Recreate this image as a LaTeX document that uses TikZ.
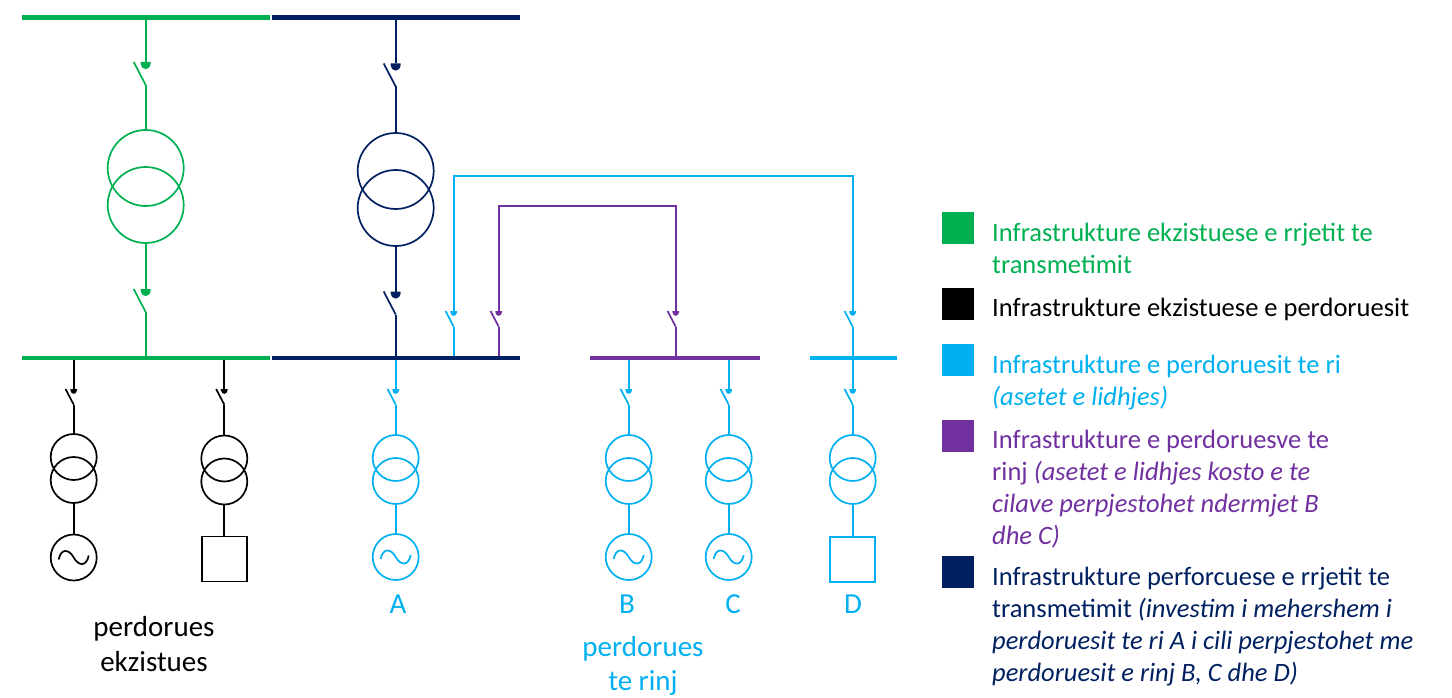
\documentclass[tikz,border=0pt]{standalone}
\usepackage{fontspec}
\setmainfont{Carlito}
\usetikzlibrary{positioning,calc}
\definecolor{exgreen}{HTML}{00B050}
\definecolor{newblue}{HTML}{00B0F0}
\definecolor{newpurple}{HTML}{7030A0}
\definecolor{reinfnavy}{HTML}{002060}
\tikzset{ln/.style={draw, line width=1.7pt}}
\tikzset{busbar/.style={fill, inner sep=0pt, outer sep=0pt, minimum height=4.5pt}}
\tikzset{winding/.style={draw, circle, line width=1.7pt, inner sep=0pt, outer sep=0pt, minimum size=46pt}}
\tikzset{bigwinding/.style={winding, minimum size=76pt}}
\tikzset{loadbox/.style={draw, rectangle, line width=1.7pt, inner sep=0pt, outer sep=0pt, minimum size=45pt}}
\tikzset{keybox/.style={fill, inner sep=0pt, outer sep=0pt, minimum size=32pt}}
\tikzset{keytxt/.style={anchor=base west, inner sep=0pt, font=\fontsize{26.5}{32}\selectfont}}
\tikzset{lbl/.style={anchor=base, inner sep=0pt, align=center, font=\fontsize{29}{34.5}\selectfont}}
\tikzset{brkr/.pic={
	\fill (-5,0) -- (5,0) -- (5,1.5) .. controls (4,9) and (-4,9) .. (-5,1.5) -- cycle;
	\draw[line width=1.7pt] (-12,0) -- (0,23);
	\coordinate (top) at (0,0);
	\coordinate (bot) at (0,23);
}}
\tikzset{sinew/.pic={
	\draw[line width=1.7pt] (-15,2) .. controls (-13,-9) and (-5,-9) .. (0,0) .. controls (5,9) and (13,9) .. (15,-2);
}}
\begin{document}
\begin{tikzpicture}[x=1pt,y=-1pt]
	\useasboundingbox (0,0) rectangle (1452,698);
	% busbars
	\node[busbar, exgreen, minimum width=248pt] (GT) at (145.5,17.7) {};
	\node[busbar, reinfnavy, minimum width=248pt] (NT) at (396,17.7) {};
	\node[busbar, exgreen, minimum width=248pt] (GL) at (145.5,358) {};
	\node[busbar, reinfnavy, minimum width=248pt] (NL) at (396,358) {};
	\node[busbar, newpurple, minimum width=170pt] (PL) at (675,358) {};
	\node[busbar, newblue, minimum width=87pt] (BL) at (853.5,358) {};

	% green transformer bay
	\begin{scope}[exgreen]
		\pic (g1) at (145.7,62) {brkr};
		\node[bigwinding] (GTa) at (145.7,168) {};
		\node[bigwinding] (GTb) at (145.7,205) {};
		\pic (g2) at (145.7,289) {brkr};
		\draw[ln] (g1top |- GT.south) -- (g1top);
		\draw[ln] (g1bot) -- (GTa.north);
		\draw[ln] (GTb.south) -- (g2top);
		\draw[ln] (g2bot) -- (g2bot |- GL.north);
	\end{scope}

	% navy transformer bay
	\begin{scope}[reinfnavy]
		\pic (n1) at (395.7,63.5) {brkr};
		\node[bigwinding] (NTa) at (395.7,171) {};
		\node[bigwinding] (NTb) at (395.7,208) {};
		\pic (n2) at (395.7,291.5) {brkr};
		\draw[ln] (n1top |- NT.south) -- (n1top);
		\draw[ln] (n1bot) -- (NTa.north);
		\draw[ln] (NTb.south) -- (n2top);
		\draw[ln] (n2bot) -- (n2bot |- NL.north);
	\end{scope}

	% existing users
	\begin{scope}[black]
		\pic[scale=.68] (e1) at (73.7,389) {brkr};
		\node[winding] (E1a) at (73.7,457) {};
		\node[winding] (E1b) at (73.7,480) {};
		\node[winding] (E1g) at (73.7,557.5) {};
		\pic at (E1g.center) {sinew};
		\draw[ln] (e1top |- GL.south) -- (e1top);
		\draw[ln] (e1bot) -- (E1a.north);
		\draw[ln] (E1b.south) -- (E1g.north);

		\pic[scale=.68] (e2) at (224.3,389) {brkr};
		\node[winding] (E2a) at (224.3,458.5) {};
		\node[winding] (E2b) at (224.3,481.5) {};
		\node[loadbox] (E2s) at (224.3,559) {};
		\draw[ln] (e2top |- GL.south) -- (e2top);
		\draw[ln] (e2bot) -- (E2a.north);
		\draw[ln] (E2b.south) -- (E2s.north);
	\end{scope}

	% new users
	\begin{scope}[newblue]
		\pic[scale=.68] (a1) at (395.7,389) {brkr};
		\node[winding] (Aa) at (395.7,458) {};
		\node[winding] (Ab) at (395.7,481) {};
		\node[winding] (Ag) at (395.7,557) {};
		\pic at (Ag.center) {sinew};
		\draw[ln] (a1top |- NL.south) -- (a1top);
		\draw[ln] (a1bot) -- (Aa.north);
		\draw[ln] (Ab.south) -- (Ag.north);

		\pic[scale=.68] (b1) at (628.7,389) {brkr};
		\node[winding] (Ba) at (628.7,458) {};
		\node[winding] (Bb) at (628.7,481) {};
		\node[winding] (Bg) at (628.7,557) {};
		\pic at (Bg.center) {sinew};
		\draw[ln] (b1top |- PL.south) -- (b1top);
		\draw[ln] (b1bot) -- (Ba.north);
		\draw[ln] (Bb.south) -- (Bg.north);

		\pic[scale=.68] (c1) at (728.7,389) {brkr};
		\node[winding] (Ca) at (728.7,458) {};
		\node[winding] (Cb) at (728.7,481) {};
		\node[winding] (Cg) at (728.7,557) {};
		\pic at (Cg.center) {sinew};
		\draw[ln] (c1top |- PL.south) -- (c1top);
		\draw[ln] (c1bot) -- (Ca.north);
		\draw[ln] (Cb.south) -- (Cg.north);

		\pic[scale=.68] (d1) at (852.7,389) {brkr};
		\node[winding] (Da) at (852.7,458) {};
		\node[winding] (Db) at (852.7,481) {};
		\node[loadbox] (Ds) at (852.7,559.5) {};
		\draw[ln] (d1top |- BL.south) -- (d1top);
		\draw[ln] (d1bot) -- (Da.north);
		\draw[ln] (Db.south) -- (Ds.north);

		% connection of D to the navy bus
		\pic[scale=.68] (d2) at (453.7,311) {brkr};
		\pic[scale=.68] (d3) at (852.7,311) {brkr};
		\coordinate (dL) at (453.7,175.7);
		\coordinate (dR) at (852.7,175.7);
		\draw[ln] (d2bot) -- (d2bot |- NL.north);
		\draw[ln] (d2top) -- (dL) -- (dR) -- (d3top);
		\draw[ln] (d3bot) -- (d3bot |- BL.north);
	\end{scope}

	% connection of B and C to the navy bus
	\begin{scope}[newpurple]
		\pic[scale=.68] (p1) at (498.7,311) {brkr};
		\pic[scale=.68] (p2) at (675.7,311) {brkr};
		\coordinate (pL) at (498.7,206);
		\coordinate (pR) at (675.7,206);
		\draw[ln] (p1bot) -- (p1bot |- NL.north);
		\draw[ln] (p1top) -- (pL) -- (pR) -- (p2top);
		\draw[ln] (p2bot) -- (p2bot |- PL.north);
	\end{scope}

	% user labels
	\node[lbl] (Lex) at (154,671) {perdorues\\ekzistues};
	\node[lbl, newblue] (LA) at (398,613.5) {A};
	\node[lbl, newblue] (LB) at (627,613.5) {B};
	\node[lbl, newblue] (LC) at (733,613.5) {C};
	\node[lbl, newblue] (LD) at (853,613.5) {D};
	\node[lbl, newblue] (Lnew) at (643,690.5) {perdorues\\te rinj};

	% key
	\node[keybox, exgreen] (K1) at (957.5,228) {};
	\node[keybox, black] (K2) at (957.5,304) {};
	\node[keybox, newblue] (K3) at (957.5,360) {};
	\node[keybox, newpurple] (K4) at (957.5,436) {};
	\node[keybox, reinfnavy] (K5) at (957.5,572) {};
	\node[keytxt, exgreen, align=left] (T1) at (992,273) {Infrastrukture ekzistuese e rrjetit te\\transmetimit};
	\node[keytxt, black] (T2) at (992,316) {Infrastrukture ekzistuese e perdoruesit};
	\node[keytxt, newblue, align=left] (T3) at (992,405) {Infrastrukture e perdoruesit te ri\\\textit{(asetet e lidhjes)}};
	\node[keytxt, newpurple, align=left] (T4) at (992,544) {Infrastrukture e perdoruesve te\\rinj \textit{(asetet e lidhjes kosto e te}\\\textit{cilave perpjestohet ndermjet B}\\\textit{dhe C)}};
	\node[keytxt, reinfnavy, align=left] (T5) at (992,681) {Infrastrukture perforcuese e rrjetit te\\transmetimit \textit{(investim i mehershem i}\\\textit{perdoruesit te ri A i cili perpjestohet me}\\\textit{perdoruesit e rinj B, C dhe D)}};
\end{tikzpicture}
\end{document}
